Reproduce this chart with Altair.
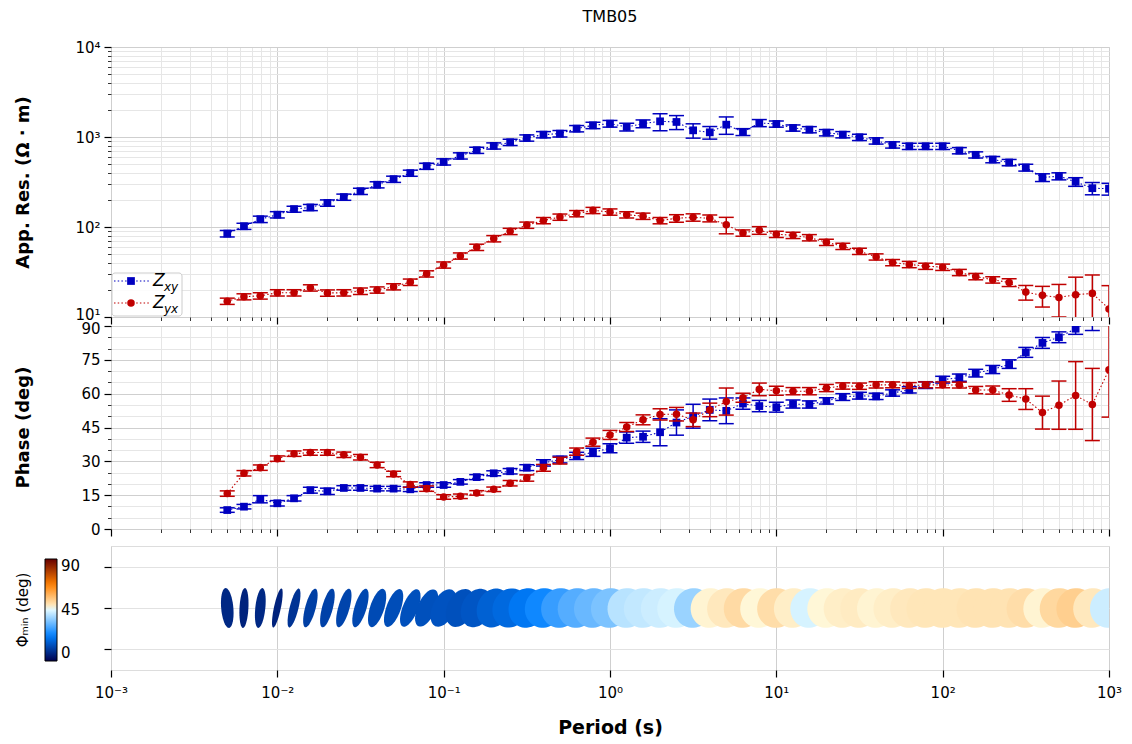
import math
import altair as alt
import pandas as pd

FONT = "DejaVu Sans"
BLUE = "#0000c0"
RED = "#c00000"

periods = [0.005, 0.0063, 0.0079, 0.01, 0.0126, 0.0158, 0.02, 0.0251, 0.0316, 0.0398,
           0.05, 0.063, 0.079, 0.1, 0.126, 0.158, 0.2, 0.251, 0.316, 0.398,
           0.5, 0.63, 0.79, 1.0, 1.26, 1.58, 2.0, 2.51, 3.16, 3.98,
           5.0, 6.3, 7.9, 10.0, 12.6, 15.8, 20.0, 25.1, 31.6, 39.8,
           50.0, 63.0, 79.0, 100.0, 126.0, 158.0, 200.0, 251.0, 316.0, 398.0,
           500.0, 630.0, 794.0, 1000.0]

rho_xy = [84.5, 102, 122, 137, 158, 165, 185, 215, 250, 295,
          340, 397, 474, 530, 618, 713, 797, 874, 977, 1063,
          1090, 1240, 1348, 1407, 1294, 1407, 1493, 1469, 1186, 1127,
          1371, 1138, 1432, 1396, 1261, 1208, 1119, 1063, 993, 906,
          818, 789, 789, 789, 706, 634, 562, 521, 458, 355,
          367, 318, 270, 266]
rho_xy_err = [7, 8, 10, 11, 12, 13, 15, 17, 20, 23,
              27, 31, 37, 42, 49, 56, 63, 70, 78, 85,
              90, 100, 110, 120, 130, 140, 320, 260, 215, 180,
              300, 100, 130, 110, 100, 95, 90, 85, 80, 72,
              65, 63, 63, 63, 56, 50, 45, 42, 40, 35,
              33, 35, 42, 40]
rho_yx = [15.0, 16.8, 17.2, 18.6, 18.6, 21.1, 18.5, 18.6, 19.4, 20.0,
          21.7, 24.4, 30.2, 37.9, 47.7, 59.6, 74.3, 89.5, 105, 118,
          129, 141, 153, 147, 137, 132, 118, 125, 128, 125,
          106, 85.9, 91.9, 83.0, 80.9, 76.2, 67.7, 61.1, 53.8, 46.6,
          40.3, 38.4, 36.7, 35.8, 31.3, 28.2, 25.9, 24.2, 18.9, 17.4,
          16.5, 17.7, 18.3, 12.3]
rho_yx_err = [1.2, 1.3, 1.4, 1.5, 1.5, 1.7, 1.5, 1.5, 1.6, 1.6,
              1.7, 2.0, 2.4, 3.0, 3.8, 4.8, 6.0, 7.2, 8.4, 9.4,
              10.3, 11.3, 12.2, 11.8, 11.0, 10.6, 9.5, 12, 12, 11,
              22, 6.9, 9, 6.6, 6.5, 6.1, 5.4, 4.9, 4.3, 3.7,
              3.2, 3.1, 2.9, 2.9, 2.5, 2.3, 2.1, 2.4, 3.5, 4.5,
              6.5, 10, 11, 10]
phase_xy = [8.4, 9.9, 13.2, 11.4, 13.6, 17.2, 16.7, 18.2, 18.2, 17.9,
            17.9, 17.6, 19.5, 19.5, 20.9, 23.0, 24.7, 25.6, 27.2, 29.3,
            30.8, 32.4, 34.0, 35.8, 40.5, 40.9, 42.9, 47.2, 50.0, 52.8,
            52.4, 55.6, 54.5, 54.0, 55.4, 55.2, 56.8, 58.5, 59.1, 58.8,
            60.3, 61.7, 63.8, 66.2, 67.1, 69.1, 70.7, 73.1, 78.3, 82.5,
            85.0, 88.8, 93.0, 96.0]
phase_xy_err = [1.0, 1.0, 1.6, 1.2, 1.2, 1.3, 1.4, 1.0, 1.0, 1.0,
                1.0, 1.0, 1.0, 1.0, 1.0, 1.1, 1.1, 1.2, 1.3, 1.4,
                1.5, 1.6, 1.8, 2.0, 2.5, 2.5, 6.0, 5.6, 5.3, 4.8,
                5.7, 2.5, 2.5, 2.2, 1.8, 1.6, 1.4, 1.5, 1.5, 1.4,
                1.4, 1.4, 1.5, 1.5, 1.6, 1.7, 1.8, 1.9, 2.2, 2.4,
                2.4, 2.5, 5.0, 5.0]
phase_yx = [15.7, 24.7, 27.2, 31.2, 33.4, 33.9, 33.9, 32.9, 31.8, 28.4,
            24.4, 19.7, 17.9, 14.2, 14.5, 16.0, 17.6, 20.3, 22.6, 27.1,
            30.3, 34.3, 38.5, 41.7, 45.2, 48.4, 50.8, 50.9, 48.4, 52.8,
            56.5, 58.2, 61.9, 61.3, 61.1, 61.1, 62.5, 63.4, 63.3, 63.9,
            63.9, 63.6, 63.9, 63.9, 63.8, 61.6, 61.6, 59.4, 57.6, 51.6,
            54.9, 59.2, 55.2, 70.6]
phase_yx_err = [1.2, 1.2, 1.2, 1.2, 1.2, 1.2, 1.2, 1.2, 1.2, 1.2,
                1.2, 1.2, 1.2, 1.0, 1.0, 1.0, 1.0, 1.2, 1.4, 1.5,
                1.5, 1.6, 1.8, 2.0, 2.0, 2.2, 2.5, 3.0, 3.0, 3.0,
                6.0, 2.0, 2.8, 2.0, 1.6, 1.6, 1.6, 1.4, 1.4, 1.4,
                1.3, 1.3, 1.3, 1.3, 1.3, 1.6, 1.8, 2.8, 4.6, 7.3,
                10.7, 15.0, 16.0, 21.0]

pt_phimin = [7, 6, 7, 6, 9, 11, 11.5, 12, 12.5, 13, 13.5, 14, 14, 14.5,
             14, 15, 17, 18.5, 21, 24, 28, 31, 33, 35, 41, 42, 43, 44, 38,
             47, 49, 51.5, 46.5, 51, 48, 44, 46.5, 48, 48.5, 47, 48,
             49, 49.5, 49.5, 49.5, 50, 50, 50, 51, 47, 52, 53.5, 49, 43]
pt_phimax = [23, 27, 28, 35, 41, 42, 43, 43, 42, 37, 37.5, 37, 31, 26,
             21.5, 20, 20.7, 21.3, 23.3, 26, 30, 33, 35, 37, 43, 44, 45, 46, 40,
             49.5, 51.5, 54, 49, 53.5, 50.5, 46.5, 49, 50.5, 51, 49.5, 50.5,
             51.5, 52, 52, 52, 52.5, 52.5, 52.5, 53.5, 49.5, 54.5, 56, 51.5, 45.5]
pt_azimuth = [-5, 3, 6, 12, 14, 15, 15, 16, 17, 18, 20, 22, 24, 25,
              25, 25, 24, 22, 20, 20, 20, 20, 20, 20, 20, 20, 20, 20, 20,
              20, 20, 20, 20, 20, 20, 20, 20, 20, 20, 20, 20,
              20, 20, 20, 20, 20, 20, 20, 20, 20, 20, 20, 20, 20]

# ---------------- tables ----------------
df = pd.DataFrame({"period": periods,
                   "rho_xy": rho_xy, "rho_yx": rho_yx,
                   "phase_xy": phase_xy, "phase_yx": phase_yx})
df["rxy_lo"] = [v - e for v, e in zip(rho_xy, rho_xy_err)]
df["rxy_hi"] = [v + e for v, e in zip(rho_xy, rho_xy_err)]
df["ryx_lo"] = [v - e for v, e in zip(rho_yx, rho_yx_err)]
df["ryx_hi"] = [v + e for v, e in zip(rho_yx, rho_yx_err)]
df["pxy_lo"] = [v - e for v, e in zip(phase_xy, phase_xy_err)]
df["pxy_hi"] = [v + e for v, e in zip(phase_xy, phase_xy_err)]
df["pyx_lo"] = [v - e for v, e in zip(phase_yx, phase_yx_err)]
df["pyx_hi"] = [v + e for v, e in zip(phase_yx, phase_yx_err)]


def ellipse_path(ratio, n=48):
    pts = []
    for i in range(n):
        t = 2 * math.pi * i / n
        pts.append(f"{ratio * math.sin(t):.4f},{-math.cos(t):.4f}")
    return "M" + " L".join(pts) + " Z"


pt_df = pd.DataFrame({"period": periods, "phimin": pt_phimin})
pt_df["path"] = [ellipse_path(a / b) for a, b in zip(pt_phimin, pt_phimax)]
pt_df["tilt"] = [a % 360 for a in pt_azimuth]

# ---------------- axes ----------------
LOGMAJ = "abs(log(datum.value)/LN10 - round(log(datum.value)/LN10)) < 0.001"


def common(test):
    return dict(grid=True, domain=False, ticks=True, tickColor="black",
                tickSize={"condition": {"test": test, "value": 7}, "value": 3.5},
                tickWidth={"condition": {"test": test, "value": 1.2}, "value": 0.8},
                gridColor={"condition": {"test": test, "value": "#cfcfcf"}, "value": "#e6e6e6"},
                gridWidth=1, labelFont=FONT, labelFontSize=15, labelColor="black",
                labelOverlap=False, labelPadding=4)


x_vals = [round(m * 10.0 ** e, 6) for e in range(-3, 3) for m in range(1, 10)] + [1000.0]
x_scale = alt.Scale(type="log", domain=[0.001, 1000])
x_top_axis = alt.Axis(values=x_vals, labels=False, title=None, **common(LOGMAJ))
# invisible spacer title gives the phase panel a slightly larger gap below it
x_mid_axis = alt.Axis(values=x_vals, labels=False, title=" ", titleFontSize=1, titlePadding=7,
                      **common(LOGMAJ))
bot_common = common("true")
bot_common["labelPadding"] = 8
x_bot_axis = alt.Axis(values=[0.001, 0.01, 0.1, 1, 10, 100, 1000], title="Period (s)",
                      labelExpr="['10⁻³','10⁻²','10⁻¹','10⁰','10¹','10²','10³'][round(log(datum.value)/LN10)+3]",
                      labelFlush=False, titleFont=FONT, titleFontSize=19, titleFontWeight="bold",
                      titleColor="black", titlePadding=18, **bot_common)

X_TOP = alt.X("period:Q", scale=x_scale, axis=x_top_axis)
X_MID = alt.X("period:Q", scale=x_scale, axis=x_mid_axis)
X_BOT = alt.X("period:Q", scale=x_scale, axis=x_bot_axis)

y_res_vals = [round(m * 10.0 ** e, 6) for e in range(1, 4) for m in range(1, 10)] + [10000.0]
y_res_axis = alt.Axis(values=y_res_vals, title="App. Res. (Ω · m)",
                      labelExpr=f"({LOGMAJ}) ? ['10¹','10²','10³','10⁴'][round(log(datum.value)/LN10)-1] : ''",
                      labelOffset={"condition": {"test": "datum.value == 10", "value": -3}, "value": 0},
                      titleFont=FONT, titleFontSize=18, titleFontWeight="bold", titleColor="black",
                      titleX=-88, titleY=135, titleBaseline="middle", titleAngle=270,
                      **common(LOGMAJ))
y_res_scale = alt.Scale(type="log", domain=[10, 10000])

PH_MAJ = "datum.value % 15 == 0"
y_ph_axis = alt.Axis(values=list(range(0, 91, 5)), title="Phase (deg)",
                     labelExpr="datum.value % 15 == 0 ? datum.label : ''",
                     labelOffset={"condition": {"test": "datum.value == 90", "value": 2}, "value": 0},
                     titleFont=FONT, titleFontSize=18, titleFontWeight="bold", titleColor="black",
                     titleX=-88, titleY=101, titleBaseline="middle", titleAngle=270,
                     **common(PH_MAJ))
y_ph_scale = alt.Scale(domain=[0, 90])


def series(yfield, lo, hi, yscale, yaxis, color, shape, size, data_x):
    base = alt.Chart(df)
    line = base.mark_line(color=color, strokeDash=[1.5, 2.2], strokeWidth=1.1, clip=True).encode(
        x=data_x, y=alt.Y(f"{yfield}:Q", scale=yscale, axis=yaxis))
    bar = base.mark_rule(color=color, strokeWidth=1.5, clip=True).encode(
        x=data_x, y=alt.Y(f"{lo}:Q", scale=yscale, axis=yaxis), y2=f"{hi}:Q")
    cap_lo = base.mark_tick(color=color, orient="horizontal", size=15, thickness=1.5, opacity=1, clip=True).encode(
        x=data_x, y=alt.Y(f"{lo}:Q", scale=yscale, axis=yaxis))
    cap_hi = base.mark_tick(color=color, orient="horizontal", size=15, thickness=1.5, opacity=1, clip=True).encode(
        x=data_x, y=alt.Y(f"{hi}:Q", scale=yscale, axis=yaxis))
    pts = base.mark_point(shape=shape, filled=True, color=color, size=size, opacity=1, clip=True).encode(
        x=data_x, y=alt.Y(f"{yfield}:Q", scale=yscale, axis=yaxis))
    return [line, bar, cap_lo, cap_hi, pts]


one = pd.DataFrame({"k": [0]})


def legend_layers():
    box = alt.Chart(one).mark_rect(fill="white", fillOpacity=0.85, stroke="#cccccc", strokeWidth=1,
                                   cornerRadius=3).encode(
        x=alt.value(1), x2=alt.value(71), y=alt.value(226), y2=alt.value(269))
    out = [box]
    for ypos, color, shape, size, sub in [(234, BLUE, "square", 60, "xy"), (256, RED, "circle", 57, "yx")]:
        out.append(alt.Chart(one).mark_rule(color=color, strokeDash=[1.5, 2.2], strokeWidth=1.1).encode(
            x=alt.value(3), x2=alt.value(38), y=alt.value(ypos)))
        out.append(alt.Chart(one).mark_point(shape=shape, filled=True, color=color, size=size, opacity=1).encode(
            x=alt.value(20), y=alt.value(ypos)))
        out.append(alt.Chart(one).mark_text(text="Z", font=FONT, fontSize=17, fontStyle="italic",
                                            align="left", baseline="middle", color="black").encode(
            x=alt.value(42), y=alt.value(ypos)))
        out.append(alt.Chart(one).mark_text(text=sub, font=FONT, fontSize=12, fontStyle="italic",
                                            align="left", baseline="middle", color="black").encode(
            x=alt.value(53), y=alt.value(ypos + 6)))
    return out


top = alt.layer(
    *series("rho_xy", "rxy_lo", "rxy_hi", y_res_scale, y_res_axis, BLUE, "square", 60, X_TOP),
    *series("rho_yx", "ryx_lo", "ryx_hi", y_res_scale, y_res_axis, RED, "circle", 57, X_TOP),
    *legend_layers()
).properties(width=998, height=270,
             title=alt.TitleParams("TMB05", font=FONT, fontSize=16, fontWeight="normal",
                                   anchor="middle", frame="group", offset=15, color="black"))

phase = alt.layer(
    *series("phase_xy", "pxy_lo", "pxy_hi", y_ph_scale, y_ph_axis, BLUE, "square", 60, X_MID),
    *series("phase_yx", "pyx_lo", "pyx_hi", y_ph_scale, y_ph_axis, RED, "circle", 57, X_MID),
).properties(width=998, height=203)

ell_axis = alt.Axis(values=[0, 45, 90], labels=False, title=None, grid=True, domain=False,
                    tickColor="black", tickSize=7, tickWidth=1.2, gridColor="#e2e2e2")

color_scale = alt.Scale(domain=[0, 22.5, 45, 45.01, 67.5, 90], interpolate="rgb",
                        range=["#00004d", "#0080ff", "#e0f8ff", "#ffffe6", "#ff8000", "#660000"])

ell_marks = alt.Chart(pt_df).mark_point(filled=True, opacity=1, strokeWidth=0, size=1600, clip=True).encode(
    x=X_BOT,
    y=alt.YDatum(datum=45, type="quantitative", scale=alt.Scale(domain=[-22.5, 112.5]), axis=ell_axis),
    shape=alt.Shape("path:N", scale=None),
    angle=alt.Angle("tilt:Q", scale=None),
    color=alt.Color("phimin:Q", scale=color_scale,
                    legend=alt.Legend(orient="none", legendX=-66, legendY=13, title=None, padding=0,
                                      gradientLength=102, gradientThickness=12,
                                      gradientStrokeColor="black", gradientStrokeWidth=1,
                                      labelFont=FONT, labelFontSize=15, labelColor="black",
                                      values=[0, 45, 90], labelOffset=4,
                                      direction="vertical")),
)
cb_title = alt.Chart(one).mark_text(text="Φₘᵢₙ (deg)", font=FONT, fontSize=15, angle=270,
                                    align="center", baseline="middle", color="black").encode(
    x=alt.value(-88), y=alt.value(64))
cb_mid = alt.Chart(one).mark_rule(color="black", strokeWidth=1.2).encode(
    x=alt.value(-66), x2=alt.value(-54), y=alt.value(64))

ell = alt.layer(ell_marks, cb_title, cb_mid).properties(width=998, height=124)

chart = alt.vconcat(top, phase, ell, spacing=-8).resolve_legend(
    color="independent").properties(
    padding={"left": 5, "top": 0, "right": 0, "bottom": 0}
).configure_view(
    stroke="black", strokeWidth=1.5
).configure(background="white")

chart.save("out.html", embed_options={"renderer": "svg", "actions": False})
